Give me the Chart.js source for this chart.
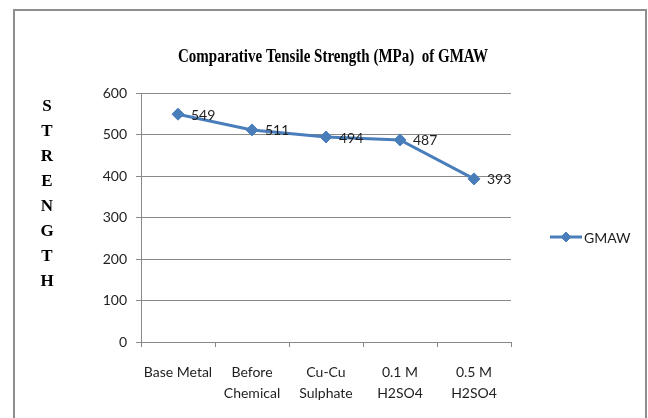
<!DOCTYPE html>
<html>
<head>
<meta charset="utf-8">
<script src="https://cdn.jsdelivr.net/npm/chart.js@4/dist/chart.umd.min.js"></script>
<style>
  html, body { margin: 0; padding: 0; background: #fff; }
  #wrap { width: 648px; height: 418px; position: relative; }
</style>
</head>
<body>
<div id="wrap"><canvas id="c" width="648" height="418"></canvas></div>
<script>
// Chart data
const categories = ['Base Metal', ['Before', 'Chemical'], ['Cu-Cu', 'Sulphate'], ['0.1 M', 'H2SO4'], ['0.5 M', 'H2SO4']];
const strength = [549, 511, 494, 487, 393];
const seriesName = 'GMAW';
const chartTitle = 'Comparative Tensile Strength (MPa)  of GMAW';
const axisLetters = ['S', 'T', 'R', 'E', 'N', 'G', 'T', 'H'];
const yMin = 0, yMax = 600, yStep = 100;

const LINE = '#4a7ebb';
const GRID = '#898989';
const TEXT = '#1e1e1e';
const SANS = 'Lato, "Liberation Sans", sans-serif';
const SERIF = '"Liberation Serif", "DejaVu Serif", serif';

// Outer frame of the chart
const framePlugin = {
  id: 'frame',
  beforeDraw(chart) {
    const ctx = chart.ctx;
    ctx.save();
    ctx.fillStyle = '#fff';
    ctx.fillRect(0, 0, chart.width, chart.height);
    ctx.strokeStyle = '#8e8e8e';
    ctx.lineWidth = 2;
    ctx.strokeRect(14, 10, 632, 430);
    ctx.restore();
  }
};

// Condensed bold serif title
const titlePlugin = {
  id: 'condTitle',
  afterDraw(chart) {
    const ctx = chart.ctx;
    ctx.save();
    ctx.font = 'bold 18px ' + SERIF;
    ctx.fillStyle = '#000';
    ctx.textBaseline = 'middle';
    ctx.textAlign = 'center';
    const w = ctx.measureText(chartTitle).width;
    const target = 310;
    ctx.translate(333, 57);
    ctx.scale(target / w, 1);
    ctx.fillText(chartTitle, 0, 0);
    ctx.restore();
  }
};

// Stacked letters for the vertical axis title
const axisTitlePlugin = {
  id: 'stackedAxisTitle',
  afterDraw(chart) {
    const ctx = chart.ctx;
    ctx.save();
    ctx.font = 'bold 17px ' + SERIF;
    ctx.fillStyle = '#000';
    ctx.textAlign = 'center';
    ctx.textBaseline = 'middle';
    axisLetters.forEach((ch, i) => ctx.fillText(ch, 47, 107 + i * 25));
    ctx.restore();
  }
};

// Value labels to the right of each point
const valueLabelPlugin = {
  id: 'valueLabels',
  afterDatasetsDraw(chart) {
    const ctx = chart.ctx;
    const meta = chart.getDatasetMeta(0);
    const data = chart.data.datasets[0].data;
    ctx.save();
    ctx.font = '14px ' + SANS;
    ctx.fillStyle = TEXT;
    ctx.textAlign = 'left';
    ctx.textBaseline = 'middle';
    meta.data.forEach((pt, i) => ctx.fillText(String(data[i]), pt.x + 13, pt.y + 1));
    ctx.restore();
  }
};

// Legend entry: line with a diamond marker, then the series name
const legendPlugin = {
  id: 'lineLegend',
  afterDraw(chart) {
    const ctx = chart.ctx;
    const x0 = chart.chartArea.right + 39;
    const y = 237;
    ctx.save();
    ctx.strokeStyle = LINE;
    ctx.lineWidth = 3;
    ctx.beginPath();
    ctx.moveTo(x0, y);
    ctx.lineTo(x0 + 32, y);
    ctx.stroke();
    ctx.fillStyle = LINE;
    ctx.lineWidth = 1;
    Chart.helpers.drawPoint(ctx, { pointStyle: 'rectRot', radius: 5, borderWidth: 1, rotation: 0 }, x0 + 16, y);
    ctx.font = '14px ' + SANS;
    ctx.fillStyle = TEXT;
    ctx.textAlign = 'left';
    ctx.textBaseline = 'middle';
    ctx.fillText(seriesName, x0 + 34, y + 1);
    ctx.restore();
  }
};

new Chart(document.getElementById('c'), {
  type: 'line',
  data: {
    labels: categories,
    datasets: [{
      label: seriesName,
      data: strength,
      borderColor: LINE,
      backgroundColor: LINE,
      borderWidth: 3,
      pointStyle: 'rectRot',
      pointRadius: 6,
      pointBorderWidth: 1,
      pointBackgroundColor: LINE,
      pointBorderColor: LINE,
      tension: 0,
      fill: false
    }]
  },
  options: {
    responsive: false,
    animation: false,
    devicePixelRatio: 1,
    layout: { padding: { top: 93, right: 137, left: 0, bottom: 0 } },
    plugins: {
      legend: { display: false },
      title: { display: false },
      tooltip: { enabled: false }
    },
    scales: {
      x: {
        type: 'category',
        offset: true,
        grid: { display: true, drawOnChartArea: false, drawTicks: true, tickLength: 5, color: GRID, offset: true },
        border: { display: true, color: GRID, width: 1 },
        ticks: { font: { family: SANS, size: 14, lineHeight: 1.5 }, color: TEXT, padding: 15, maxRotation: 0, autoSkip: false },
        afterFit(s) { s.height = 76; }
      },
      y: {
        min: yMin,
        max: yMax,
        grid: { color: GRID, tickLength: 5, drawTicks: true },
        border: { display: true, color: GRID, width: 1 },
        ticks: { stepSize: yStep, font: { family: SANS, size: 14 }, color: TEXT, padding: 9 },
        afterFit(s) { s.width = 141; }
      }
    }
  },
  plugins: [framePlugin, titlePlugin, axisTitlePlugin, valueLabelPlugin, legendPlugin]
});
</script>
</body>
</html>
